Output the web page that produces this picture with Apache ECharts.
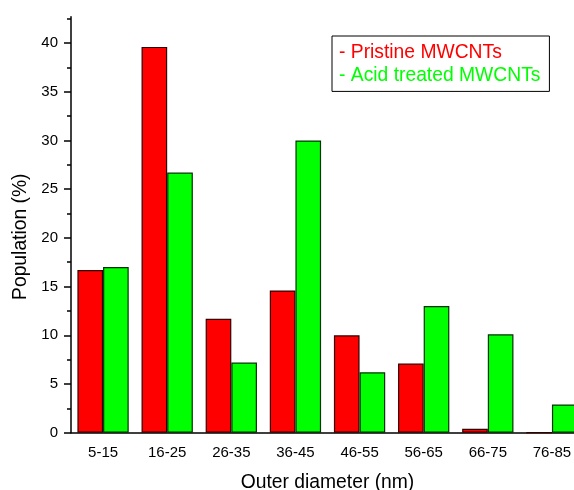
<!DOCTYPE html>
<html>
<head>
<meta charset="utf-8">
<script src="https://cdn.jsdelivr.net/npm/echarts@6/dist/echarts.min.js"></script>
<style>html,body{margin:0;padding:0;background:#fff}#c{width:574px;height:490px}</style>
</head>
<body>
<div id="c"></div>
<script>
const categories = ['5-15', '16-25', '26-35', '36-45', '46-55', '56-65', '66-75', '76-85'];
const pristine = [16.7, 39.6, 11.7, 14.6, 10.0, 7.1, 0.4, 0];
const acid = [17.0, 26.7, 7.2, 30.0, 6.2, 13.0, 10.1, 2.9];
const majorTicks = [0, 5, 10, 15, 20, 25, 30, 35, 40];
const minorTicks = [2.5, 7.5, 12.5, 17.5, 22.5, 27.5, 32.5, 37.5, 42.5];
const seriesNames = ['Pristine MWCNTs', 'Acid treated MWCNTs'];

const FONT = 'Liberation Sans, Arial, sans-serif';
const yMax = 42.7;
const chart = echarts.init(document.getElementById('c'), null, {renderer: 'canvas'});
chart.setOption({
  animation: false,
  backgroundColor: '#fff',
  grid: {left: 71, top: 16.7, width: 513, height: 416, containLabel: false, outerBoundsMode: 'none'},
  legend: {
    left: 332, top: 36,
    orient: 'vertical',
    icon: 'none',
    itemWidth: 0, itemHeight: 20, itemGap: 3.4,
    padding: [7, 9, 6, 2],
    borderColor: '#000', borderWidth: 1,
    formatter: '- {name}',
    textStyle: {fontFamily: FONT, fontSize: 19.3},
    data: [
      {name: seriesNames[0], textStyle: {color: '#ff0000'}},
      {name: seriesNames[1], textStyle: {color: '#00ff00'}}
    ],
    selectedMode: false
  },
  xAxis: [{
    type: 'category', data: categories, position: 'bottom',
    axisLine: {lineStyle: {color: '#000', width: 1.5}},
    axisTick: {alignWithLabel: true, length: 7, lineStyle: {color: '#000', width: 1.5}},
    axisLabel: {color: '#000', fontFamily: FONT, fontSize: 15, margin: 13},
    name: 'Outer diameter (nm)', nameLocation: 'middle', nameGap: 40,
    nameTextStyle: {color: '#000', fontFamily: FONT, fontSize: 19.3}
  }, {
    type: 'category', data: categories, position: 'bottom',
    axisLine: {show: false},
    axisTick: {length: 4, lineStyle: {color: '#000', width: 1.5}},
    axisLabel: {show: false}
  }],
  yAxis: [{
    type: 'value', min: 0, max: yMax,
    splitLine: {show: false},
    axisLine: {show: true, lineStyle: {color: '#000', width: 1.5}},
    axisTick: {show: true, length: 7, customValues: majorTicks, lineStyle: {color: '#000', width: 1.5}},
    axisLabel: {color: '#000', fontFamily: FONT, fontSize: 15, margin: 13, customValues: majorTicks},
    name: 'Population (%)', nameLocation: 'middle', nameGap: 39,
    nameTextStyle: {color: '#000', fontFamily: FONT, fontSize: 19.3, padding: [0, 24, 0, 0]}
  }, {
    type: 'value', min: 0, max: yMax, position: 'left',
    splitLine: {show: false},
    axisLine: {show: false},
    axisTick: {show: true, length: 4, customValues: minorTicks, lineStyle: {color: '#000', width: 1.5}},
    axisLabel: {show: false}
  }],
  series: [{
    name: seriesNames[0], type: 'bar', data: pristine,
    xAxisIndex: 0, yAxisIndex: 0,
    barGap: '0%', barCategoryGap: '20%',
    itemStyle: {color: '#ff0000', borderColor: '#300', borderWidth: 1.2}
  }, {
    name: seriesNames[1], type: 'bar', data: acid,
    xAxisIndex: 0, yAxisIndex: 0,
    barGap: '0%', barCategoryGap: '20%',
    itemStyle: {color: '#00ff00', borderColor: '#030', borderWidth: 1.2}
  }]
});
</script>
</body>
</html>
